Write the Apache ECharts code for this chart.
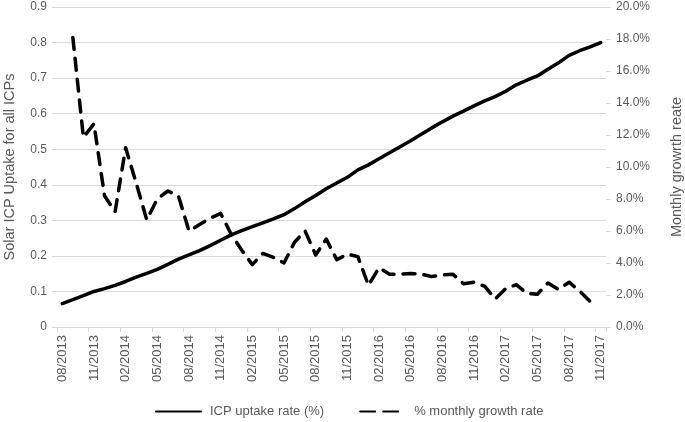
<!DOCTYPE html>
<html>
<head>
<meta charset="utf-8">
<script src="https://cdn.jsdelivr.net/npm/echarts@6/dist/echarts.min.js"></script>
<style>
html,body{margin:0;padding:0;background:#fff;}
#c{width:685px;height:422px;}
</style>
</head>
<body>
<div id="c"></div>
<script>
var months = ["08/2013","09/2013","10/2013","11/2013","12/2013","01/2014","02/2014","03/2014","04/2014","05/2014","06/2014","07/2014","08/2014","09/2014","10/2014","11/2014","12/2014","01/2015","02/2015","03/2015","04/2015","05/2015","06/2015","07/2015","08/2015","09/2015","10/2015","11/2015","12/2015","01/2016","02/2016","03/2016","04/2016","05/2016","06/2016","07/2016","08/2016","09/2016","10/2016","11/2016","12/2016","01/2017","02/2017","03/2017","04/2017","05/2017","06/2017","07/2017","08/2017","09/2017","10/2017","11/2017"];
var uptake = [0.066,0.077,0.088,0.100,0.108,0.117,0.128,0.140,0.151,0.162,0.176,0.191,0.203,0.215,0.229,0.244,0.259,0.271,0.282,0.293,0.304,0.316,0.333,0.352,0.370,0.389,0.405,0.421,0.442,0.456,0.473,0.490,0.507,0.524,0.542,0.560,0.577,0.593,0.607,0.622,0.636,0.648,0.663,0.681,0.694,0.706,0.725,0.743,0.764,0.777,0.788,0.800];
var growth = [null,18.1,11.85,12.7,8.2,7.2,11.2,9.0,6.7,8.0,8.5,8.2,6.0,6.4,6.8,7.1,5.8,4.8,3.9,4.6,4.35,4.0,5.3,6.0,4.5,5.5,4.2,4.55,4.4,2.6,3.7,3.3,3.3,3.35,3.3,3.15,3.25,3.3,2.7,2.8,2.55,1.75,2.4,2.65,2.1,2.05,2.75,2.35,2.8,2.25,1.6,null];
var leftTitle = "Solar ICP Uptake for all ICPs";
var rightTitle = "Monthly growrth reate";
var seriesNames = ["ICP uptake rate (%)", "% monthly growth rate"];

var FONT = "'Liberation Sans', Arial, sans-serif";
var GRAY = "#595959";
var chart = echarts.init(document.getElementById('c'), null, {renderer: 'canvas'});
chart.setOption({
  animation: false,
  textStyle: {fontFamily: FONT},
  grid: {left: 57, right: 79, top: 7, bottom: 95, containLabel: false, outerBoundsMode: 'none'},
  legend: {
    left: 150, top: 400,
    itemWidth: 45, itemHeight: 14, itemGap: 35,
    itemStyle: {opacity: 0},
    textStyle: {fontFamily: FONT, fontSize: 13, color: GRAY, padding: [0,0,0,4]},
    data: [
      {name: seriesNames[0]},
      {name: seriesNames[1], lineStyle: {type: [15, 8]}}
    ]
  },
  xAxis: {
    type: 'category',
    data: months,
    boundaryGap: true,
    axisLine: {show: true, lineStyle: {color: '#d9d9d9', width: 1}},
    axisTick: {show: true, interval: 2, length: 5, lineStyle: {color: '#d9d9d9'}},
    axisLabel: {interval: 2, rotate: 90, margin: 8, fontSize: 13, color: GRAY, fontFamily: FONT},
    splitLine: {show: false}
  },
  yAxis: [{
    type: 'value', min: 0, max: 0.9, interval: 0.1,
    name: leftTitle, nameLocation: 'middle', nameRotate: 90, nameGap: 40,
    nameTextStyle: {fontSize: 14.5, color: GRAY, fontFamily: FONT},
    axisLine: {show: false},
    axisTick: {show: true, length: 5, lineStyle: {color: '#d9d9d9'}},
    axisLabel: {fontSize: 12, color: GRAY, margin: 10, fontFamily: FONT,
      formatter: function(v){ return v === 0 ? '0' : (Math.round(v*10)/10).toString(); }},
    splitLine: {show: true, lineStyle: {color: '#d9d9d9', width: 1}}
  }, {
    type: 'value', min: 0, max: 20, interval: 2, position: 'right',
    name: rightTitle, nameLocation: 'middle', nameRotate: 90, nameGap: 63,
    nameTextStyle: {fontSize: 14.5, color: GRAY, fontFamily: FONT},
    axisLine: {show: false},
    axisTick: {show: true, length: 5, lineStyle: {color: '#d9d9d9'}},
    axisLabel: {fontSize: 12, color: GRAY, margin: 10, fontFamily: FONT,
      formatter: function(v){ return v.toFixed(1) + '%'; }},
    splitLine: {show: false}
  }],
  series: [{
    name: seriesNames[0], type: 'line', yAxisIndex: 0,
    data: uptake, symbol: 'none', showSymbol: false,
    lineStyle: {color: '#000', width: 3.5, cap: 'round', join: 'round'},
    itemStyle: {color: '#000'}
  }, {
    name: seriesNames[1], type: 'line', yAxisIndex: 1,
    data: growth, symbol: 'none', showSymbol: false, connectNulls: false,
    lineStyle: {color: '#000', width: 3.5, type: [12, 9], cap: 'round', join: 'round'},
    itemStyle: {color: '#000'}
  }]
});
</script>
</body>
</html>
